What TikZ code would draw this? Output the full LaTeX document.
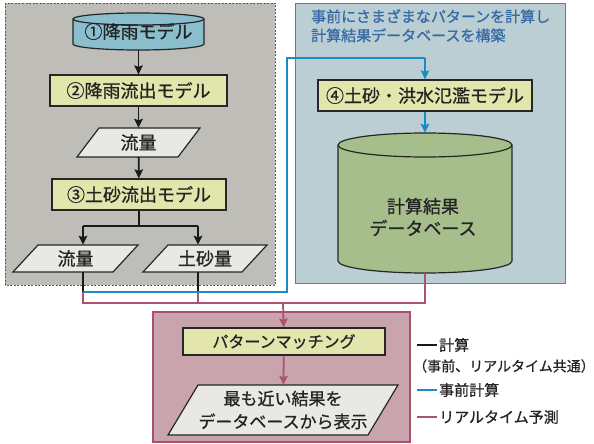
\documentclass[tikz,border=0pt]{standalone}
\usepackage{fontspec}
\setmainfont[FakeBold=0.8]{Noto Sans CJK JP}
\usetikzlibrary{arrows.meta}
\definecolor{graybg}{RGB}{190,189,184}
\definecolor{graybd}{RGB}{90,90,88}
\definecolor{bluebg}{RGB}{186,206,212}
\definecolor{bluebd}{RGB}{80,130,175}
\definecolor{pinkbg}{RGB}{201,164,173}
\definecolor{pinkbd}{RGB}{170,80,110}
\definecolor{yelbox}{RGB}{226,229,172}
\definecolor{raincyl}{RGB}{138,190,205}
\definecolor{dbgreen}{RGB}{165,190,140}
\definecolor{parafill}{RGB}{232,232,228}
\definecolor{blueln}{RGB}{25,140,200}
\definecolor{pinkln}{RGB}{172,82,112}
\definecolor{headtxt}{RGB}{55,105,165}
\definecolor{inktxt}{RGB}{35,35,35}
\tikzset{
  shapeline/.style={draw=black!85, line width=1.2pt},
  mbox/.style={shapeline, fill=yelbox, inner sep=0pt, text=inktxt, font=\fontsize{18}{20}\selectfont},
  txt/.style={inner sep=0pt, text=inktxt, font=\fontsize{18}{20}\selectfont},
  conn/.style={draw=black!90, line width=1.8pt},
  blueconn/.style={draw=blueln, line width=1.8pt},
  pinkconn/.style={draw=pinkln, line width=1.8pt},
  tip/.style={-{Stealth[length=9pt,width=8.5pt,inset=1.5pt]}},
  legtxt/.style={anchor=west, inner sep=0pt, text=inktxt, font=\fontsize{15}{18}\selectfont},
}
\begin{document}
\begin{tikzpicture}[x=1pt,y=-1pt]
\useasboundingbox (0,0) rectangle (594,444);
\fill[white] (0,0) rectangle (594,444);

% panels
\draw[fill=graybg, draw=graybd, line width=0.8pt, dash pattern=on 2pt off 1.5pt] (5,3) rectangle (275,285);
\draw[fill=bluebg, draw=bluebd, line width=0.8pt] (295,3) rectangle (565,283);
\draw[fill=pinkbg, draw=pinkbd, line width=1.2pt] (153,312) rectangle (410,442);

% header text
\node[anchor=north west, inner sep=0pt, align=left, text=headtxt, font=\fontsize{15}{19}\selectfont] (head) at (311,9)
  {事前にさまざまなパターンを計算し\\計算結果データベースを構築};

% rain cylinder
\path[shapeline, fill=raincyl] (73,19) -- (73,44) arc[start angle=180,end angle=360,x radius=65.5pt,y radius=6pt]
  -- (204,19) arc[start angle=0,end angle=180,x radius=65.5pt,y radius=6pt] -- cycle;
\draw[shapeline] (73,19) arc[start angle=180,end angle=360,x radius=65.5pt,y radius=6pt];
\node[txt, minimum width=131pt, minimum height=37pt] (rain) at (138.5,31.5) {\raisebox{-2pt}{①降雨モデル}};

% model boxes
\node[mbox, minimum width=177pt, minimum height=31pt] (m2) at (138.5,90.5) {②降雨流出モデル};
\node[mbox, minimum width=174pt, minimum height=31pt] (m3) at (139,194.5) {③土砂流出モデル};
\node[mbox, minimum width=214pt, minimum height=31pt] (m4) at (425,95.5) {④土砂・洪水氾濫モデル};
\node[mbox, minimum width=202pt, minimum height=27pt, font=\fontsize{16}{18}\selectfont] (match) at (284,341.5) {パターンマッチング};

% parallelograms
\path[shapeline, fill=parafill] (77,157) -- (99,128) -- (200,128) -- (178,157) -- cycle;
\node[txt, minimum width=100pt, minimum height=29pt] (f1) at (138.5,142.5) {流量};
\path[shapeline, fill=parafill] (13,272) -- (38,245) -- (138,245) -- (113,272) -- cycle;
\node[txt, minimum width=100pt, minimum height=27pt] (f2) at (75.5,258.5) {流量};
\path[shapeline, fill=parafill] (143,272) -- (168,245) -- (267,245) -- (242,272) -- cycle;
\node[txt, minimum width=99pt, minimum height=27pt] (sed) at (205,258.5) {土砂量};
\path[shapeline, fill=parafill] (168,435) -- (198,385) -- (398,385) -- (368,435) -- cycle;
\node[txt, minimum width=200pt, minimum height=50pt, align=center, font=\fontsize{17}{23}\selectfont] (res) at (283,410)
  {最も近い結果を\\データベースから表示};

% database cylinder
\path[shapeline, fill=dbgreen] (338,145) -- (338,261) arc[start angle=180,end angle=360,x radius=87pt,y radius=12pt]
  -- (512,145) arc[start angle=0,end angle=180,x radius=87pt,y radius=12pt] -- cycle;
\draw[shapeline] (338,145) arc[start angle=180,end angle=360,x radius=87pt,y radius=12pt];
\node[inner sep=0pt, minimum width=174pt, minimum height=140pt] (db) at (425,203) {};
\node[txt, align=center, font=\fontsize{18}{22}\selectfont] (dbtxt) at (423,217) {計算結果\\データベース};

% coordinates
\coordinate (split) at (139,226);
\coordinate (aL) at (83,226);
\coordinate (aR) at (198,226);
\coordinate (bL) at (83,292);
\coordinate (bR) at (198,292);
\coordinate (bC) at (287,292);
\coordinate (bU) at (287,58);
\coordinate (bT) at (425,58);
\coordinate (pL) at (83,303);
\coordinate (pR) at (198,303);
\coordinate (pM) at (283,303);
\coordinate (pD) at (425,303);

% black connectors
\draw[conn, tip] (rain) -- (m2);
\draw[conn, tip] (m2) -- (f1);
\draw[conn, tip] (f1) -- (m3);
\draw[conn] (m3) -- (split);
\draw[conn] (aL) -- (aR);
\draw[conn, tip] (aL) -- (aL |- f2.north);
\draw[conn, tip] (aR) -- (aR |- sed.north);
\draw[conn] (aL |- f2.south) -- (bL);
\draw[conn] (aR |- sed.south) -- (bR);

% pink connectors
\draw[pinkconn] (bL) -- (pL) -- (pD) -- (db.south);
\draw[pinkconn] (bR) -- (pR);
\draw[pinkconn, tip] (pM) -- (match);
\draw[pinkconn, tip] (match) -- (res);

% blue connectors
\draw[blueconn] (bL) -- (bC) -- (bU) -- (bT);
\draw[blueconn, tip] (bT) -- (m4);
\draw[blueconn, tip] (m4) -- (db);

% legend
\coordinate (k1a) at (417,345); \coordinate (k1b) at (437,345);
\coordinate (k2a) at (417,390); \coordinate (k2b) at (437,390);
\coordinate (k3a) at (417,417); \coordinate (k3b) at (437,417);
\draw[conn] (k1a) -- (k1b);
\draw[blueconn] (k2a) -- (k2b);
\draw[pinkconn] (k3a) -- (k3b);
\node[legtxt] (l1) at (439,345) {計算};
\node[legtxt, font=\fontsize{14}{18}\selectfont] (l2) at (413,366) {（事前、リアルタイム共通）};
\node[legtxt] (l3) at (439,390) {事前計算};
\node[legtxt] (l4) at (439,417) {リアルタイム予測};
\end{tikzpicture}
\end{document}
